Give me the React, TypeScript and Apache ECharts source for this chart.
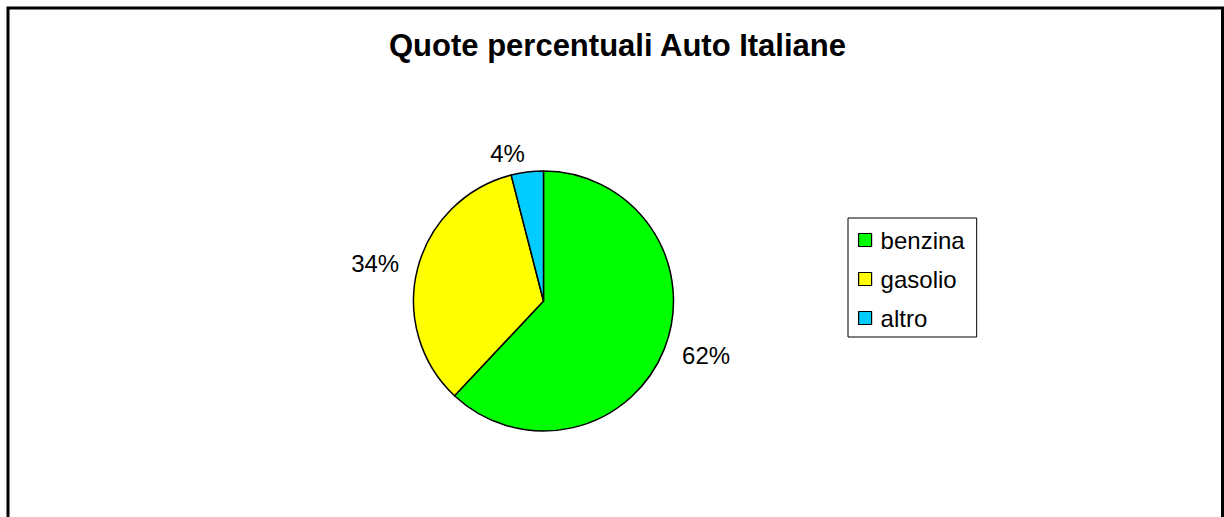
import React, { useEffect, useRef } from "react";
import * as echarts from "echarts";

// Quote di mercato per alimentazione
const categories = ["benzina", "gasolio", "altro"];
const shares = [62, 34, 4];
const colors = ["#00FF00", "#FFFF00", "#00CCFF"];
const chartTitle = "Quote percentuali Auto Italiane";

const FONT = "'Liberation Sans', Arial, sans-serif";

export default function App() {
  const ref = useRef<HTMLDivElement>(null);

  useEffect(() => {
    if (!ref.current) return;
    const chart = echarts.init(ref.current, undefined, { renderer: "svg" });
    chart.setOption({
      animation: false,
      backgroundColor: "#ffffff",
      title: {
        text: chartTitle,
        left: 617.5,
        top: 30,
        padding: 0,
        textAlign: "center",
        textStyle: {
          fontFamily: FONT,
          fontSize: 31,
          fontWeight: "bold",
          color: "#000000",
        },
      },
      legend: {
        orient: "vertical",
        left: 848,
        top: 218,
        padding: [10, 12, 7, 10],
        itemGap: 15,
        itemWidth: 13,
        itemHeight: 13,
        icon: "rect",
        borderColor: "#000000",
        borderWidth: 1,
        backgroundColor: "#ffffff",
        selectedMode: false,
        data: categories,
        itemStyle: { borderColor: "#000000", borderWidth: 1.2 },
        textStyle: {
          fontFamily: FONT,
          fontSize: 24,
          lineHeight: 24,
          color: "#000000",
          padding: [0, 0, 0, 4],
        },
      },
      graphic: [
        {
          type: "rect",
          silent: true,
          z: -1,
          shape: { x: 8, y: 8, width: 1214.5, height: 540 },
          style: { fill: "none", stroke: "#000000", lineWidth: 3 },
        },
      ],
      series: [
        {
          type: "pie",
          center: [543.5, 301],
          radius: 130,
          startAngle: 90,
          clockwise: true,
          avoidLabelOverlap: false,
          silent: true,
          data: categories.map((name, i) => ({
            name,
            value: shares[i],
            itemStyle: { color: colors[i] },
          })),
          itemStyle: { borderColor: "#000000", borderWidth: 1.5 },
          label: {
            show: true,
            position: "outside",
            formatter: (p: any) => `${p.value}%`,
            fontFamily: FONT,
            fontSize: 24,
            color: "#000000",
            distanceToLabelLine: 0,
          },
          labelLine: { show: false, length: 19, length2: 0 },
          emphasis: { disabled: true },
        },
      ],
    });
    return () => chart.dispose();
  }, []);

  return (
    <div
      ref={ref}
      style={{ position: "absolute", left: 0, top: 0, width: 1224, height: 517 }}
    />
  );
}
